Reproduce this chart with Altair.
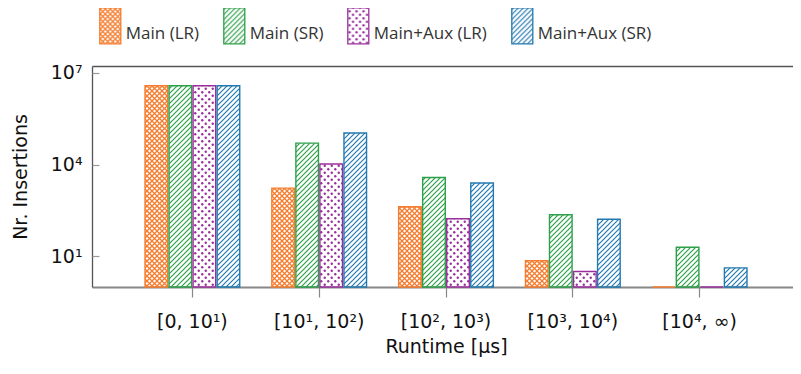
import altair as alt
import pandas as pd
import jinja2

# ---------------- data ----------------
bins = ["[0, 10¹)", "[10¹, 10²)", "[10², 10³)", "[10³, 10⁴)", "[10⁴, ∞)"]
series = ["Main (LR)", "Main (SR)", "Main+Aux (LR)", "Main+Aux (SR)"]
main_lr = [3.76e6, 1700, 420, 7.2, 1]
main_sr = [3.76e6, 50000, 3800, 230, 20]
aux_lr = [3.76e6, 10400, 170, 3.2, 1]
aux_sr = [3.76e6, 107000, 2500, 163, 4.2]
y_ticks = [10, 1e4, 1e7]
y_tick_labels = ["10¹", "10⁴", "10⁷"]
colors = ["#F57D2F", "#2CA048", "#9A2F9C", "#2279B0"]
pattern_ids = ["pOrange", "pGreen", "pPurple", "pBlue"]
y_base = 1

rows = []
for s, vals in zip(series, [main_lr, main_sr, aux_lr, aux_sr]):
    for b, v in zip(bins, vals):
        rows.append({"bin": b, "series": s, "value": v})
df = pd.DataFrame(rows)

fills = [f"url(#{p})" for p in pattern_ids]
label_expr = " : ".join(
    f"datum.value == {v} ? '{t}'" for v, t in zip(y_ticks[:-1], y_tick_labels[:-1])
) + f" : '{y_tick_labels[-1]}'"

FONT = "DejaVu Sans"
xscale = alt.Scale(paddingInner=0.253, paddingOuter=0.418)
yscale = alt.Scale(type="log", domain=[1, 1.66e7], nice=False)
xoff = alt.XOffset("series:N", sort=series, scale=alt.Scale(paddingInner=0.06, paddingOuter=0))

bars = alt.Chart(df).mark_bar(strokeWidth=1.4).encode(
    x=alt.X("bin:N", sort=bins, scale=xscale,
            axis=alt.Axis(title="Runtime [μs]", orient="bottom", labelAngle=0,
                          domainColor="#888", domainWidth=1.8, tickColor="#888",
                          tickSize=10, tickWidth=1.2, labelPadding=15, titlePadding=6)),
    xOffset=xoff,
    y=alt.Y("value:Q", scale=yscale,
            axis=alt.Axis(values=y_ticks, labelExpr=label_expr, ticks=False, grid=False,
                          domainColor="#555", domainWidth=1.3, title="Nr. Insertions",
                          labelPadding=10, titlePadding=20)),
    y2=alt.datum(y_base),
    fill=alt.Fill("series:N", sort=series, scale=alt.Scale(domain=series, range=fills), title=None),
    stroke=alt.Stroke("series:N", sort=series, scale=alt.Scale(domain=series, range=colors), title=None),
)

frame_tl = alt.Chart(df).mark_bar(opacity=0).encode(
    x=alt.X("bin:N", sort=bins, scale=xscale,
            axis=alt.Axis(orient="top", labels=False, ticks=False, title=None,
                          domainColor="#555", domainWidth=1.3)),
    xOffset=xoff,
    y=alt.Y("value:Q", scale=yscale,
            axis=alt.Axis(orient="left", offset=-7, domain=False, labels=False, grid=False,
                          tickSize=7, tickColor="#999", tickWidth=1.2, title=None, values=y_ticks)),
)

frame_r = alt.Chart(df).mark_bar(opacity=0).encode(
    x=alt.X("bin:N", sort=bins, scale=xscale, axis=None),
    xOffset=xoff,
    y=alt.Y("value:Q", scale=yscale,
            axis=alt.Axis(orient="right", offset=-7, domain=False, labels=False, grid=False,
                          tickSize=7, tickColor="#999", tickWidth=1.2, title=None, values=y_ticks)),
)

chart = alt.layer(bars, frame_tl, frame_r).resolve_axis(
    x="independent", y="independent"
).properties(
    width=708, height=221,
    autosize=alt.AutoSizeParams(type="none"),
    padding={"left": 84, "top": 58, "right": 0, "bottom": 79},
).configure_view(strokeWidth=0).configure_axis(
    labelFont=FONT, titleFont=FONT, labelFontSize=19, titleFontSize=19,
    labelColor="#111", titleColor="#111", titleFontWeight="normal",
).configure_legend(
    orient="none", legendX=6.8, legendY=-43.5, direction="horizontal", columns=4,
    symbolType="M-1,-2.5H1V0.93H-1Z", symbolSize=441, symbolStrokeWidth=1.3,
    labelFont="Open Sans", labelFontSize=17, labelColor="#333", labelOffset=4,
    columnPadding=21, padding=0, labelLimit=300,
)

DEFS = """
<svg width="0" height="0" style="position:absolute" aria-hidden="true"><defs>
<pattern id="pOrange" patternUnits="userSpaceOnUse" width="5" height="5">
<path d="M0,0L5,5M5,0L0,5" stroke="#F57D2F" stroke-width="1.3" fill="none"/></pattern>
<pattern id="pGreen" patternUnits="userSpaceOnUse" width="5" height="5">
<path d="M0,5L5,0M-1,1L1,-1M4,6L6,4" stroke="#2CA048" stroke-width="1.2" fill="none"/></pattern>
<pattern id="pPurple" patternUnits="userSpaceOnUse" width="7" height="7">
<circle cx="1.75" cy="1.75" r="1.2" fill="#9A2F9C"/><circle cx="5.25" cy="5.25" r="1.2" fill="#9A2F9C"/></pattern>
<pattern id="pBlue" patternUnits="userSpaceOnUse" width="5" height="5">
<path d="M0,5L5,0M-1,1L1,-1M4,6L6,4" stroke="#2279B0" stroke-width="1.2" fill="none"/></pattern>
</defs></svg>
"""

TEMPLATE = jinja2.Template("""<!DOCTYPE html>
<html>
<head>
  <style>
    #{{ output_div }}.vega-embed { width: 100%; display: flex; }
    #{{ output_div }}.vega-embed svg { flex-shrink: 0; }
  </style>
  <script type="text/javascript" src="{{ base_url }}/vega@{{ vega_version }}"></script>
  <script type="text/javascript" src="{{ base_url }}/vega-lite@{{ vegalite_version }}"></script>
  <script type="text/javascript" src="{{ base_url }}/vega-embed@{{ vegaembed_version }}"></script>
</head>
<body>
""" + DEFS + """
<div class="vega-visualization" id="{{ output_div }}"></div>
<script type="text/javascript">
  (function(vegaEmbed) {
    var spec = {{ spec }};
    var embedOpt = {{ embed_options }};
    function showError(el, error){
      el.innerHTML = ('<div style="color:red;"><p>JavaScript Error: ' + error.message + '</p></div>');
      throw error;
    }
    const el = document.getElementById('{{ output_div }}');
    vegaEmbed("#{{ output_div }}", spec, embedOpt).catch(error => showError(el, error));
  })(vegaEmbed);
</script>
</body>
</html>
""")

chart.save("out.html", embed_options={"renderer": "svg", "actions": False}, template=TEMPLATE)
